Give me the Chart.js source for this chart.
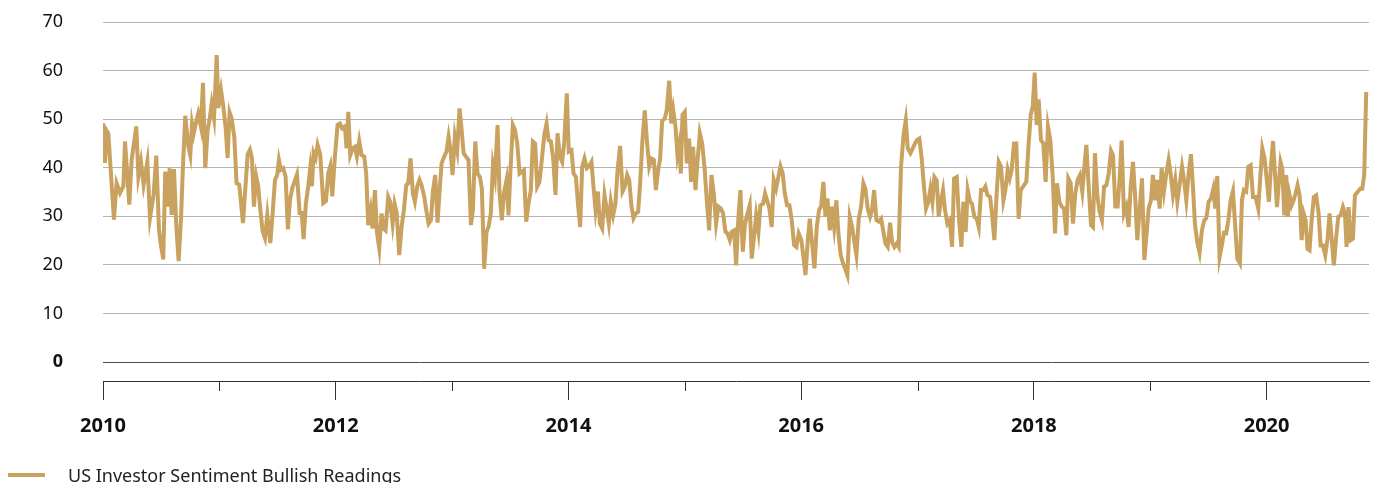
<!DOCTYPE html>
<html>
<head>
<meta charset="utf-8">
<script src="https://cdn.jsdelivr.net/npm/chart.js@4/dist/chart.umd.min.js"></script>
<style>
  body { margin: 0; background: #fff; overflow: hidden; }
  #wrap { position: relative; width: 1377px; height: 483px; }
  #legend {
    position: absolute; left: 8px; top: 463px;
    font-family: "Noto Sans", sans-serif; font-size: 18px; color: #222;
    display: flex; align-items: center; white-space: nowrap;
  }
  #legend .swatch { width: 37px; height: 4px; background: #c8a25e; margin-right: 23px; }
</style>
</head>
<body>
<div id="wrap">
  <canvas id="chart" width="1377" height="483"></canvas>
  <div id="legend"><span class="swatch"></span><span id="legend-text"></span></div>
</div>
<script>
// AAII bullish readings, weekly (x = decimal year)
const seriesName = "US Investor Sentiment Bullish Readings";

const dates = [
  2010.000, 2010.017, 2010.034, 2010.046, 2010.094, 2010.117, 2010.146, 2010.175, 2010.189, 2010.226,
  2010.246, 2010.286, 2010.304, 2010.326, 2010.349, 2010.381, 2010.404, 2010.435, 2010.458, 2010.481,
  2010.495, 2010.518, 2010.535, 2010.556, 2010.573, 2010.590, 2010.610, 2010.630, 2010.650, 2010.670,
  2010.687, 2010.707, 2010.733, 2010.750, 2010.765, 2010.779, 2010.799, 2010.819, 2010.842, 2010.859,
  2010.879, 2010.899, 2010.916, 2010.934, 2010.954, 2010.977, 2010.991, 2011.014, 2011.034, 2011.054,
  2011.071, 2011.088, 2011.105, 2011.128, 2011.148, 2011.171, 2011.203, 2011.243, 2011.263, 2011.280,
  2011.297, 2011.317, 2011.334, 2011.352, 2011.372, 2011.392, 2011.412, 2011.438, 2011.458, 2011.478,
  2011.498, 2011.512, 2011.529, 2011.549, 2011.569, 2011.589, 2011.607, 2011.627, 2011.667, 2011.690,
  2011.707, 2011.724, 2011.744, 2011.764, 2011.781, 2011.796, 2011.810, 2011.827, 2011.844, 2011.867,
  2011.893, 2011.916, 2011.936, 2011.953, 2011.970, 2011.993,
  2012.016, 2012.036, 2012.056, 2012.079, 2012.093, 2012.108, 2012.125, 2012.145, 2012.165, 2012.182,
  2012.202, 2012.222, 2012.245, 2012.262, 2012.279, 2012.300, 2012.317, 2012.337, 2012.354, 2012.374,
  2012.394, 2012.411, 2012.428, 2012.451, 2012.468, 2012.489, 2012.506, 2012.523, 2012.546, 2012.566,
  2012.586, 2012.606, 2012.623, 2012.643, 2012.663, 2012.680, 2012.700, 2012.720, 2012.738, 2012.761,
  2012.778, 2012.798, 2012.818, 2012.835, 2012.855, 2012.875, 2012.895, 2012.910, 2012.932, 2012.952,
  2012.970, 2012.987, 2013.004, 2013.024, 2013.044, 2013.064, 2013.081, 2013.099, 2013.119, 2013.141,
  2013.162, 2013.179, 2013.199, 2013.219, 2013.239, 2013.256, 2013.276, 2013.296, 2013.313, 2013.333,
  2013.351, 2013.368, 2013.391, 2013.408, 2013.428, 2013.445, 2013.468, 2013.485, 2013.499, 2013.522,
  2013.540, 2013.560, 2013.580, 2013.617, 2013.637, 2013.657, 2013.677, 2013.694, 2013.714, 2013.731,
  2013.751, 2013.771, 2013.792, 2013.812, 2013.829, 2013.849, 2013.869, 2013.889, 2013.906, 2013.926,
  2013.946,
  2013.963, 2013.986, 2014.003, 2014.026, 2014.044, 2014.064, 2014.084, 2014.101, 2014.118, 2014.138,
  2014.158, 2014.178, 2014.198, 2014.215, 2014.233, 2014.253, 2014.270, 2014.290, 2014.310, 2014.330,
  2014.347, 2014.364, 2014.384, 2014.404, 2014.422, 2014.444, 2014.465, 2014.485, 2014.505, 2014.522,
  2014.542, 2014.559, 2014.579, 2014.599, 2014.616, 2014.636, 2014.656, 2014.674, 2014.694, 2014.714,
  2014.734, 2014.751, 2014.771, 2014.788, 2014.805, 2014.828, 2014.845, 2014.866, 2014.883, 2014.900,
  2014.920, 2014.937, 2014.954, 2014.966, 2014.980, 2015.000, 2015.017, 2015.037, 2015.054, 2015.071,
  2015.092, 2015.109, 2015.129, 2015.149, 2015.169, 2015.189, 2015.209, 2015.229, 2015.249, 2015.269,
  2015.289, 2015.309, 2015.329, 2015.349, 2015.367, 2015.387, 2015.404, 2015.424, 2015.441, 2015.461,
  2015.478, 2015.498, 2015.518, 2015.535, 2015.558, 2015.575, 2015.596, 2015.613, 2015.633, 2015.650,
  2015.673, 2015.690, 2015.707, 2015.727, 2015.747, 2015.764, 2015.785, 2015.822, 2015.842, 2015.859,
  2015.879, 2015.899, 2015.919, 2015.939,
  2015.959, 2015.979, 2016.002, 2016.019, 2016.037, 2016.057, 2016.074, 2016.094, 2016.114, 2016.134,
  2016.154, 2016.171, 2016.191, 2016.209, 2016.226, 2016.246, 2016.263, 2016.283, 2016.303, 2016.320,
  2016.340, 2016.360, 2016.377, 2016.397, 2016.418, 2016.438, 2016.455, 2016.475, 2016.495, 2016.515,
  2016.535, 2016.552, 2016.572, 2016.592, 2016.609, 2016.627, 2016.647, 2016.667, 2016.687, 2016.707,
  2016.724, 2016.744, 2016.764, 2016.781, 2016.801, 2016.821, 2016.838, 2016.858, 2016.881, 2016.899,
  2016.916, 2016.939, 2016.959, 2016.979, 2016.996, 2017.016, 2017.036, 2017.053, 2017.073, 2017.093,
  2017.111, 2017.128, 2017.145, 2017.165, 2017.182, 2017.202, 2017.219, 2017.236, 2017.257, 2017.277,
  2017.297, 2017.314, 2017.337, 2017.357, 2017.377, 2017.394, 2017.414, 2017.431, 2017.451, 2017.468,
  2017.489, 2017.509, 2017.526, 2017.546, 2017.566, 2017.583, 2017.600, 2017.623, 2017.640, 2017.660,
  2017.680, 2017.698, 2017.718, 2017.738, 2017.755, 2017.775, 2017.792, 2017.809, 2017.829, 2017.849,
  2017.869, 2017.887, 2017.907,
  2017.935, 2017.955, 2017.973, 2017.990, 2018.007, 2018.024, 2018.041, 2018.061, 2018.081, 2018.101,
  2018.121, 2018.141, 2018.162, 2018.182, 2018.199, 2018.219, 2018.239, 2018.259, 2018.279, 2018.296,
  2018.316, 2018.336, 2018.356, 2018.376, 2018.396, 2018.416, 2018.434, 2018.451, 2018.471, 2018.491,
  2018.508, 2018.525, 2018.545, 2018.565, 2018.585, 2018.603, 2018.623, 2018.643, 2018.663, 2018.680,
  2018.700, 2018.720, 2018.737, 2018.754, 2018.774, 2018.794, 2018.814, 2018.832, 2018.852, 2018.872,
  2018.889, 2018.909, 2018.929, 2018.949, 2018.969, 2018.986, 2019.006, 2019.023, 2019.044, 2019.061,
  2019.081, 2019.098, 2019.118, 2019.138, 2019.158, 2019.175, 2019.195, 2019.215, 2019.233, 2019.273,
  2019.290, 2019.310, 2019.330, 2019.350, 2019.367, 2019.384, 2019.404, 2019.424, 2019.444, 2019.464,
  2019.482, 2019.502, 2019.522, 2019.542, 2019.559, 2019.576, 2019.596, 2019.616, 2019.633, 2019.653,
  2019.671, 2019.691, 2019.711, 2019.748, 2019.771, 2019.788, 2019.805, 2019.825, 2019.843, 2019.863,
  2019.883,
  2019.905, 2019.928, 2019.948, 2019.963, 2019.983, 2020.000, 2020.020, 2020.037, 2020.055, 2020.072,
  2020.089, 2020.106, 2020.120, 2020.135, 2020.152, 2020.169, 2020.183, 2020.198, 2020.215, 2020.232,
  2020.249, 2020.266, 2020.284, 2020.301, 2020.318, 2020.335, 2020.352, 2020.369, 2020.387, 2020.406,
  2020.426, 2020.447, 2020.464, 2020.484, 2020.504, 2020.524, 2020.541, 2020.558, 2020.578, 2020.598,
  2020.616, 2020.636, 2020.656, 2020.673, 2020.687, 2020.704, 2020.724, 2020.742, 2020.759, 2020.782,
  2020.805, 2020.822, 2020.839, 2020.856
];

const bullish = [
  49.2, 41, 47.5, 47, 29.3, 36.8, 34.8, 36.2, 45.4, 32.4,
  41.6, 48.5, 38.2, 41.3, 36.5, 41.3, 29.7, 34.5, 42.5, 27.3,
  24.5, 21.1, 39.2, 32, 39.9, 30.3, 39.7, 28, 20.8, 29.3,
  40.3, 50.7, 44.4, 42.5, 49, 47, 49.3, 51.2, 48.4, 57.5,
  39.9, 47.8, 49.9, 53.2, 50.2, 63.2, 52.3, 56, 52.6, 48.2,
  42, 51.4, 50.2, 46.4, 36.8, 36.5, 28.6, 42.7, 43.7, 42,
  32, 38.2, 36.2, 31.4, 26.9, 25.5, 30.3, 24.5, 30.7, 37.5,
  38.6, 41.6, 39.6, 39.9, 38.2, 27.3, 33.4, 35.8, 38.6, 30.7,
  30.7, 25.3, 32.7, 36.2, 39.9, 36.2, 43, 42, 44.7, 42.7,
  32.7, 33.1, 38.9, 40.3, 34.1, 42.3,
  48.8, 49.1, 48.1, 48.5, 44, 51.5, 42.6, 44, 44.3, 42.3,
  45.5, 42.6, 42.3, 38.8, 28.2, 31.3, 27.5, 35.4, 26.8, 23.4,
  30.6, 27.5, 27.1, 34, 33, 28.5, 32.6, 30.9, 22, 27.8,
  31.3, 36.4, 36.8, 41.9, 34.7, 33, 36.1, 37.5, 36.4, 34,
  31.3, 28.5, 29.2, 35.1, 38.5, 28.7, 36.1, 40.9, 42.3, 43.3,
  46.4, 43.6, 38.5, 46.4, 43.6, 52.2, 48.1, 43, 42.3, 41.6,
  28.2, 31.3, 45.4, 38.8, 38.1, 35.7, 19.2, 26.8, 27.8, 30.6,
  40.5, 38.1, 48.8, 34.7, 29.2, 34.7, 37.5, 30.2, 38.1, 48.8,
  47.8, 45, 38.8, 39.5, 28.9, 32.6, 35.4, 45.4, 45, 36.1,
  37.1, 41.6, 46.7, 49.1, 45.7, 45.4, 41.9, 34.4, 47.1, 42.3,
  41.2,
  45, 55.3, 43.3, 43.6, 38.8, 38.1, 32, 27.8, 40.2, 41.9,
  39.9, 40.3, 41.2, 36.1, 31.3, 35.1, 28.5, 27.5, 34.4, 31.3,
  28.5, 33, 30.2, 32.6, 39.5, 44.5, 35.1, 36.1, 38.5, 37.5,
  32, 29.6, 30.6, 30.9, 36.8, 45.7, 51.8, 45.7, 40.2, 41.9,
  41.6, 35.4, 39.5, 41.9, 49.5, 50.2, 51.9, 57.9, 49.1, 52,
  48.5, 42.6, 45, 38.8, 50.9, 51.5, 40.9, 46, 37.1, 44.3,
  35.4, 41.2, 47.1, 45, 40.2, 33.3, 27.1, 38.5, 34.7, 28.5,
  32, 31.6, 30.6, 26.8, 26.5, 25.1, 26.8, 27.1, 19.9, 29.9,
  35.4, 22.7, 28.5, 30.2, 32.3, 21.3, 26.1, 30.2, 26.8, 32.3,
  32.6, 34.7, 33.3, 31.6, 27.8, 37.5, 35.7, 40.3, 38.8, 34.7,
  32.3, 32.3, 29.2, 24.1,
  23.7, 26.5, 25.1, 21.7, 17.9, 25.1, 29.5, 24.4, 19.3, 27.8,
  31.3, 32, 37.1, 29.9, 33.7, 27.1, 32, 27.8, 33.3, 26.5,
  22, 20.3, 19.3, 17.9, 29.9, 27.8, 25.1, 22, 29.5, 32,
  36.8, 35.7, 31.6, 29.9, 31.3, 35.4, 29.2, 28.9, 29.5, 26.8,
  24.4, 23.7, 28.7, 24.7, 23.7, 24.4, 23.7, 40.2, 47, 49.8,
  44, 43, 44, 45, 45.7, 46, 41.9, 36.8, 31.6, 33,
  35.7, 33, 38.1, 37.4, 29.9, 33.3, 35.4, 31.3, 28.5, 29.2,
  23.7, 37.8, 38.1, 29.2, 23.7, 33, 26.8, 35.4, 33, 32.6,
  29.9, 29.5, 27.8, 35.4, 35.4, 36.1, 34.4, 34, 30.6, 25.1,
  34.7, 41.2, 40.2, 33.3, 35.4, 39.5, 37.8, 39.5, 45, 45,
  29.5, 35.4, 36.1,
  37.1, 45, 50.9, 52.6, 59.6, 48.8, 54.1, 45.7, 45, 37.1,
  48.5, 45.7, 38.1, 26.5, 36.8, 33, 32, 31.6, 26.1, 37.8,
  36.8, 28.5, 34.7, 37.5, 38.5, 35.1, 40.2, 44.7, 36.1, 28.2,
  27.8, 43, 34.4, 30.9, 29.2, 36.1, 36.4, 38.8, 43.5, 42.6,
  32, 32, 37.8, 45.6, 30.6, 32, 27.8, 36.1, 41.2, 33.3,
  25.1, 31.3, 37.8, 21, 26.5, 31.6, 33.3, 38.5, 33.3, 37.5,
  31.6, 39.9, 35.1, 38.8, 41.6, 38.8, 34.4, 37.5, 33, 40.2,
  37.5, 33.3, 38.8, 42.8, 36.1, 28.5, 24.7, 22.5, 27.1, 29.2,
  29.6, 33, 33.7, 35.7, 31.6, 38.3, 21.6, 24.1, 26.6, 26.5,
  29.2, 33.3, 35.2, 21.3, 20.3, 33.3, 35.4, 35.1, 40.2, 40.5,
  34,
  34, 31.6, 38.8, 44, 41.9, 37.8, 33, 40.2, 45.5, 38.8,
  31.9, 37.1, 41.2, 39.8, 30.2, 38.5, 29.9, 34.3, 32.3, 33.3,
  34.7, 36.4, 34.3, 25.1, 30.6, 29.2, 23.3, 23, 29.2, 34,
  34.3, 30.6, 24, 24, 22, 25.4, 30.6, 25.7, 19.9, 25.7,
  29.9, 30.2, 31.9, 30.6, 23.7, 31.9, 25.1, 25.4, 34.3, 35,
  35.7, 35.7, 38.5, 55.6
];

const yearTicks = [2010, 2011, 2012, 2013, 2014, 2015, 2016, 2017, 2018, 2019, 2020];
const valueTicks = [0, 10, 20, 30, 40, 50, 60, 70];

const lineColor = "#c8a25e";
const fontFamily = "'Noto Sans', sans-serif";

document.getElementById("legend-text").textContent = seriesName;

// short tick marks for the odd years
const oddYearTicks = {
  id: "oddYearTicks",
  afterDraw(chart) {
    const xs = chart.scales.x;
    const ctx = chart.ctx;
    const bottom = chart.chartArea.bottom;
    ctx.save();
    ctx.strokeStyle = "#333";
    ctx.lineWidth = 1;
    yearTicks.filter(y => y % 2 === 1).forEach(y => {
      const px = Math.round(xs.getPixelForValue(y)) + 0.5;
      ctx.beginPath();
      ctx.moveTo(px, bottom);
      ctx.lineTo(px, bottom + 10);
      ctx.stroke();
    });
    ctx.restore();
  }
};

new Chart(document.getElementById("chart"), {
  type: "line",
  data: {
    datasets: [{
      label: seriesName,
      data: dates.map((d, i) => ({ x: d, y: bullish[i] })),
      borderColor: lineColor,
      borderWidth: 4,
      pointRadius: 0,
      tension: 0,
      fill: false
    }]
  },
  options: {
    responsive: false,
    animation: false,
    layout: { padding: { top: 22, right: 8, bottom: 0, left: 0 } },
    plugins: { legend: { display: false }, tooltip: { enabled: false } },
    scales: {
      x: {
        type: "linear",
        min: 2010,
        max: 2020.88,
        afterBuildTicks: s => { s.ticks = yearTicks.map(v => ({ value: v })); },
        afterFit: s => { s.height = 102; s.paddingLeft = 0; s.paddingRight = 0; },
        grid: {
          display: true,
          drawOnChartArea: false,
          drawTicks: true,
          tickLength: 19,
          tickColor: c => (c.tick && c.tick.value % 2 === 0) ? "#333" : "rgba(0,0,0,0)"
        },
        border: { display: true, color: "#333", width: 1 },
        ticks: {
          autoSkip: false,
          maxRotation: 0,
          padding: 14,
          color: "#111",
          font: { family: fontFamily, size: 20, weight: "bold" },
          callback: v => (v % 2 === 0 ? String(v) : "")
        }
      },
      y: {
        min: -3.9,
        max: 70,
        afterBuildTicks: s => { s.ticks = valueTicks.map(v => ({ value: v })); },
        afterFit: s => { s.width = 103; s.paddingTop = 0; s.paddingBottom = 0; },
        grid: {
          drawTicks: false,
          color: c => (c.tick && c.tick.value === 0) ? "#4d4d4d" : "#b4b4b4",
          lineWidth: 1
        },
        border: { display: false },
        ticks: {
          padding: 40,
          color: "#111",
          font: c => ({ family: fontFamily, size: 18, weight: (c.tick && c.tick.value === 0) ? "bold" : "normal" })
        }
      }
    }
  },
  plugins: [oddYearTicks]
});
</script>
</body>
</html>
